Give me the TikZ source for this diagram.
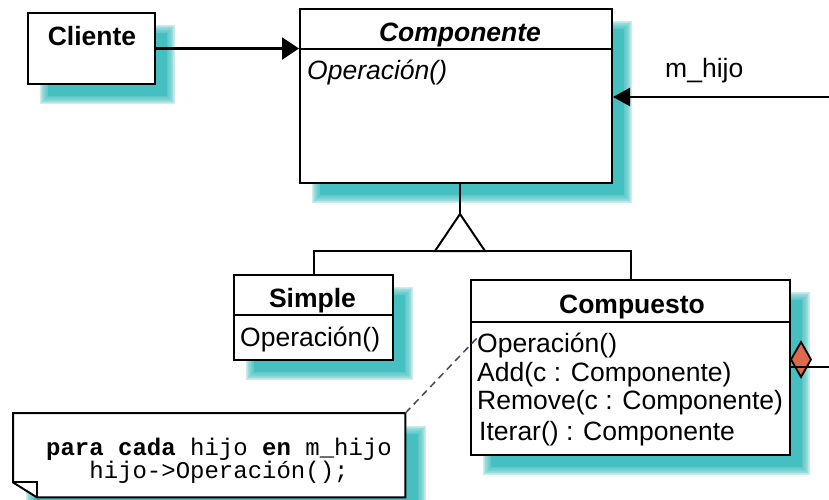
\documentclass[tikz,border=0pt]{standalone}
\usepackage{fontspec}
\setmainfont{Liberation Sans}
\setmonofont{Liberation Mono}
\usetikzlibrary{arrows.meta}

\definecolor{shadowteal}{RGB}{70,191,192}
\definecolor{aggfill}{RGB}{222,106,76}
\definecolor{notedash}{RGB}{70,70,85}

% soft drop shadow behind a box given by its corners (x1,y1) (x2,y2)
\newcommand{\softshadow}[4]{%
  \fill[shadowteal] ({#1+21},{#2+21}) rectangle ({#3+13},{#4+13});
  \foreach \k in {1,...,12}{%
    \fill[shadowteal,opacity=0.15] ({#1+21-0.7*\k},{#2+21-0.7*\k}) rectangle ({#3+13+0.7*\k},{#4+13+0.7*\k});
  }%
}

\begin{document}
\begin{tikzpicture}[x=1pt,y=-1pt,
  classbox/.style={draw=black,line width=2pt,fill=white,rectangle,inner sep=0pt,anchor=north west},
  lbl/.style={inner sep=0pt,font=\fontsize{26.5}{30}\selectfont},
  ctitle/.style={inner sep=0pt,font=\fontsize{26.5}{30}\selectfont\bfseries,anchor=base},
  oper/.style={lbl,anchor=base west},
  assoc/.style={line width=2.5pt},
  inherit/.style={line width=2pt},
  sepline/.style={line width=2pt},
]
\useasboundingbox (0,0) rectangle (829,499);

% shadows
\softshadow{27}{12}{154}{83}
\softshadow{299}{8}{611}{182}
\softshadow{233}{274}{392}{359}
\softshadow{470}{279}{789}{454}
\softshadow{13}{413}{405}{497}

% class boxes
\node[classbox,minimum width=127pt,minimum height=71pt] (cliente) at (27,12) {};
\node[classbox,minimum width=312pt,minimum height=174pt] (comp) at (299,8) {};
\node[classbox,minimum width=159pt,minimum height=85pt] (simple) at (233,274) {};
\node[classbox,minimum width=319pt,minimum height=175pt] (compuesto) at (470,279) {};

% compartment separators
\draw[sepline] ([yshift=-41pt]comp.north west) -- ([yshift=-41pt]comp.north east);
\draw[sepline] ([yshift=-41pt]simple.north west) -- ([yshift=-41pt]simple.north east);
\draw[sepline] ([yshift=-43pt]compuesto.north west) -- ([yshift=-43pt]compuesto.north east);

% class texts
\node[ctitle] (tcliente) at (92,45.5) {Cliente};
\node[ctitle,font=\fontsize{26.5}{30}\selectfont\bfseries\itshape] (tcomp) at (460,41.5) {Componente};
\node[oper,font=\fontsize{26.5}{30}\selectfont\itshape] (opcomp) at (307,79) {Operación()};
\node[ctitle] (tsimple) at (312.5,307.5) {Simple};
\node[oper] (opsimple) at (240,346.5) {Operación()};
\node[ctitle] (tcompuesto) at (632,313) {Compuesto};
\node[oper] (op1) at (477,352) {Operación()};
\node[oper] (op2) at (477,381.5) {Add(c : Componente)};
\node[oper] (op3) at (477,409.5) {Remove(c : Componente)};
\node[oper] (op4) at (479,440) {Iterar() : Componente};

% association Cliente -> Componente
\draw[assoc,-{Triangle[length=17pt,width=22pt]}] (cliente.east) -- (cliente.east -| comp.west);

% m_hijo association
\coordinate (mhend) at (829,97);
\draw[assoc,-{Triangle[length=17pt,width=18pt]}] (mhend) -- (mhend -| comp.east);
\node[oper] (mhijo) at (665,77) {m\_hijo};

% generalisation
\coordinate (apex) at (460,214);
\coordinate (bar) at (0,251);
\draw[inherit] (apex |- comp.south) -- (apex);
\draw[inherit,line join=miter] (apex) -- ++(-25,37) -- ++(50,0) -- cycle;
\draw[inherit] (simple.north) -- (simple.north |- bar) -- (compuesto.north |- bar) -- (compuesto.north);

% composition diamond
\coordinate (dia) at (compuesto.east |- 0,359.5);
\draw[line width=1.8pt,fill=aggfill,line join=miter] (dia) -- ++(10,-17.5) -- ++(10,17.5) -- ++(-10,17.5) -- cycle;
\coordinate (aggend) at (829,367);
\draw[assoc] (compuesto.east |- aggend) -- (aggend);

% note
\node[inner sep=0pt,minimum width=392pt,minimum height=84pt,anchor=north west] (note) at (13,413) {};
\draw[line width=2pt,fill=white,line join=miter] (note.north west) -- (note.north east) -- (note.south east)
  -- ([xshift=24pt]note.south west) -- ([yshift=15pt]note.south west) -- cycle;
\draw[line width=2pt] ([yshift=15pt]note.south west) -- ([xshift=24pt,yshift=15pt]note.south west)
  -- ([xshift=24pt]note.south west);
\node[inner sep=0pt,anchor=base,align=center,font=\fontsize{24}{23}\selectfont\ttfamily] (notetext) at (219,478)
  {\textbf{para cada} hijo \textbf{en} m\_hijo\\hijo->Operación();};

% note link
\coordinate (opanchor) at (477,338);
\draw[notedash,line width=1.5pt,dash pattern=on 7pt off 5pt] (note.north east) -- (opanchor);
\end{tikzpicture}
\end{document}
